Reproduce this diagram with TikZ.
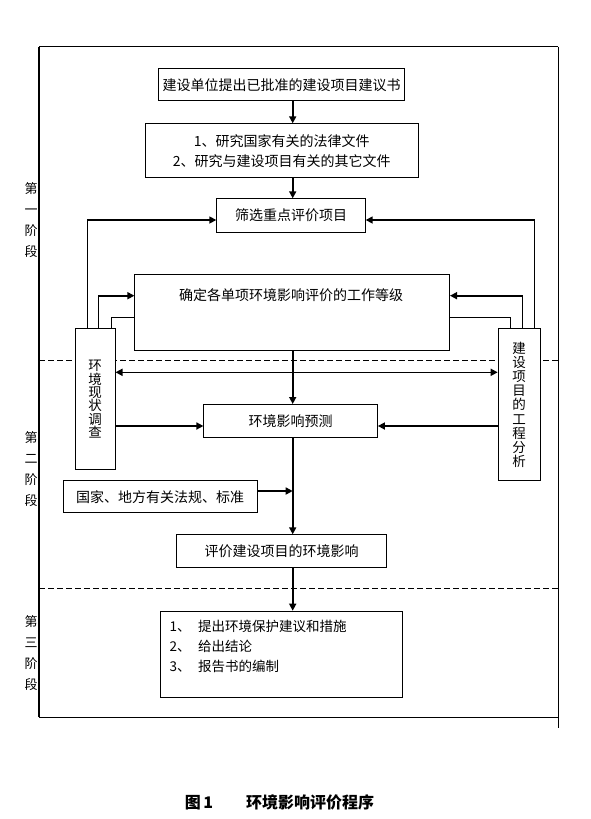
\documentclass[tikz,border=0pt]{standalone}
\usepackage{fontspec}
\setmainfont{Noto Sans CJK SC}
\usetikzlibrary{arrows.meta}
\begin{document}
\begin{tikzpicture}[x=1pt,y=-1pt,
  box/.style={draw,fill=white,line width=0.8pt,inner sep=0pt,anchor=north west,align=center,font=\fontsize{14}{20}\selectfont},
  txt/.style={inner sep=0pt,font=\fontsize{14}{20}\selectfont},
  arr/.style={line width=1.6pt,-{Triangle[length=7pt,width=7pt]}},
  darr/.style={line width=1.6pt,{Triangle[length=7pt,width=7pt]}-{Triangle[length=7pt,width=7pt]}},
  thinline/.style={line width=0.8pt},
  sepline/.style={line width=1.5pt,dash pattern=on 6pt off 3pt},
  stage/.style={font=\fontsize{13}{21}\selectfont,align=center,inner sep=0pt}]
\useasboundingbox (0,0) rectangle (591,819);
% frame
\draw[line width=1.5pt] (39,46.7) -- (558.3,46.7);
\draw[line width=2pt] (39,46.7) -- (39,717.3);
\draw[line width=1.5pt] (39,717.3) -- (558.3,717.3);
\draw[line width=1pt] (558.3,46.7) -- (558.3,728.3);
\draw[sepline] (39,360.7) -- (558.3,360.7);
\draw[sepline] (39,588.3) -- (558.3,588.3);
% stage labels
\node[stage] (s1) at (31,220) {第\\一\\阶\\段};
\node[stage] (s2) at (31,469) {第\\二\\阶\\段};
\node[stage] (s3) at (31,653) {第\\三\\阶\\段};
% boxes
\node[box,minimum width=246.3pt,minimum height=32pt] (b1) at (158.1,68.3) {建设单位提出已批准的建设项目建议书};
\node[box,minimum width=272.7pt,minimum height=54pt] (b2) at (144.9,123.3) {1、研究国家有关的法律文件\\2、研究与建设项目有关的其它文件};
\node[box,minimum width=148.6pt,minimum height=33.4pt] (b3) at (216.3,198.3) {筛选重点评价项目};
\node[box,minimum width=314.8pt,minimum height=75.7pt] (b4) at (134.4,274.3) {};
\node[txt] (b4t) at (291,295) {确定各单项环境影响评价的工作等级};
\node[box,minimum width=40.2pt,minimum height=141pt,font=\fontsize{13.5}{13.4}\selectfont] (L) at (74.5,328.3) {环\\境\\现\\状\\调\\查};
\node[box,minimum width=42pt,minimum height=152pt,font=\fontsize{13.5}{14.2}\selectfont] (R) at (497.7,328.3) {建\\设\\项\\目\\的\\工\\程\\分\\析};
\node[box,minimum width=173.7pt,minimum height=32.7pt] (b7) at (203.4,404) {环境影响预测};
\node[box,minimum width=193.8pt,minimum height=32pt] (b8) at (62.7,480.3) {国家、地方有关法规、标准};
\node[box,minimum width=210pt,minimum height=32.4pt] (b9) at (176.1,534.3) {评价建设项目的环境影响};
\node[box,minimum width=242.3pt,minimum height=86pt] (b10) at (159.9,610.7) {};
\node[inner sep=0pt,anchor=north west,align=left,font=\fontsize{13.5}{20.3}\selectfont] (b10t) at (169.5,619.5)
  {\makebox[28.5pt][l]{1、}提出环境保护建议和措施\\\makebox[28.5pt][l]{2、}给出结论\\\makebox[28.5pt][l]{3、}报告书的编制};
% main vertical arrows
\coordinate (mx) at (292.7,0);
\draw[arr] (b1.south -| mx) -- (b2.north -| mx);
\draw[arr] (b2.south -| mx) -- (b3.north -| mx);
\draw[arr] (b4.south -| mx) -- (b7.north -| mx);
\draw[arr] (b7.south -| mx) -- (b9.north -| mx);
\draw[arr] (b9.south -| mx) -- (b10.north -| mx);
\coordinate (j) at (292.7,491);
\draw[arr] (b8.east |- j) -- (j);
% left side
\coordinate (la) at (87.4,220);
\draw[arr] (la |- L.north) -- (la) -- (la -| b3.west);
\coordinate (lb) at (98.6,295.7);
\draw[arr] (lb |- L.north) -- (lb) -- (lb -| b4.west);
\coordinate (lc) at (111.1,317.7);
\draw[thinline] (lc |- L.north) -- (lc) -- (lc -| b4.west);
% right side
\coordinate (ra) at (534.3,220);
\draw[arr] (ra |- R.north) -- (ra) -- (ra -| b3.east);
\coordinate (rb) at (522.5,295.7);
\draw[arr] (rb |- R.north) -- (rb) -- (rb -| b4.east);
\coordinate (rc) at (510,317.7);
\draw[thinline] (rc |- R.north) -- (rc) -- (rc -| b4.east);
% horizontal arrows
\coordinate (dd) at (0,372.3);
\draw[darr] (L.east |- dd) -- (R.west |- dd);
\coordinate (yc) at (0,426);
\draw[arr] (L.east |- yc) -- (b7.west |- yc);
\draw[arr] (R.west |- yc) -- (b7.east |- yc);
% caption
\node[inner sep=0pt,font=\bfseries\fontsize{16}{16}\selectfont] (cap) at (279.5,802) {图\,1\hspace{33pt}环境影响评价程序};
\end{tikzpicture}
\end{document}
